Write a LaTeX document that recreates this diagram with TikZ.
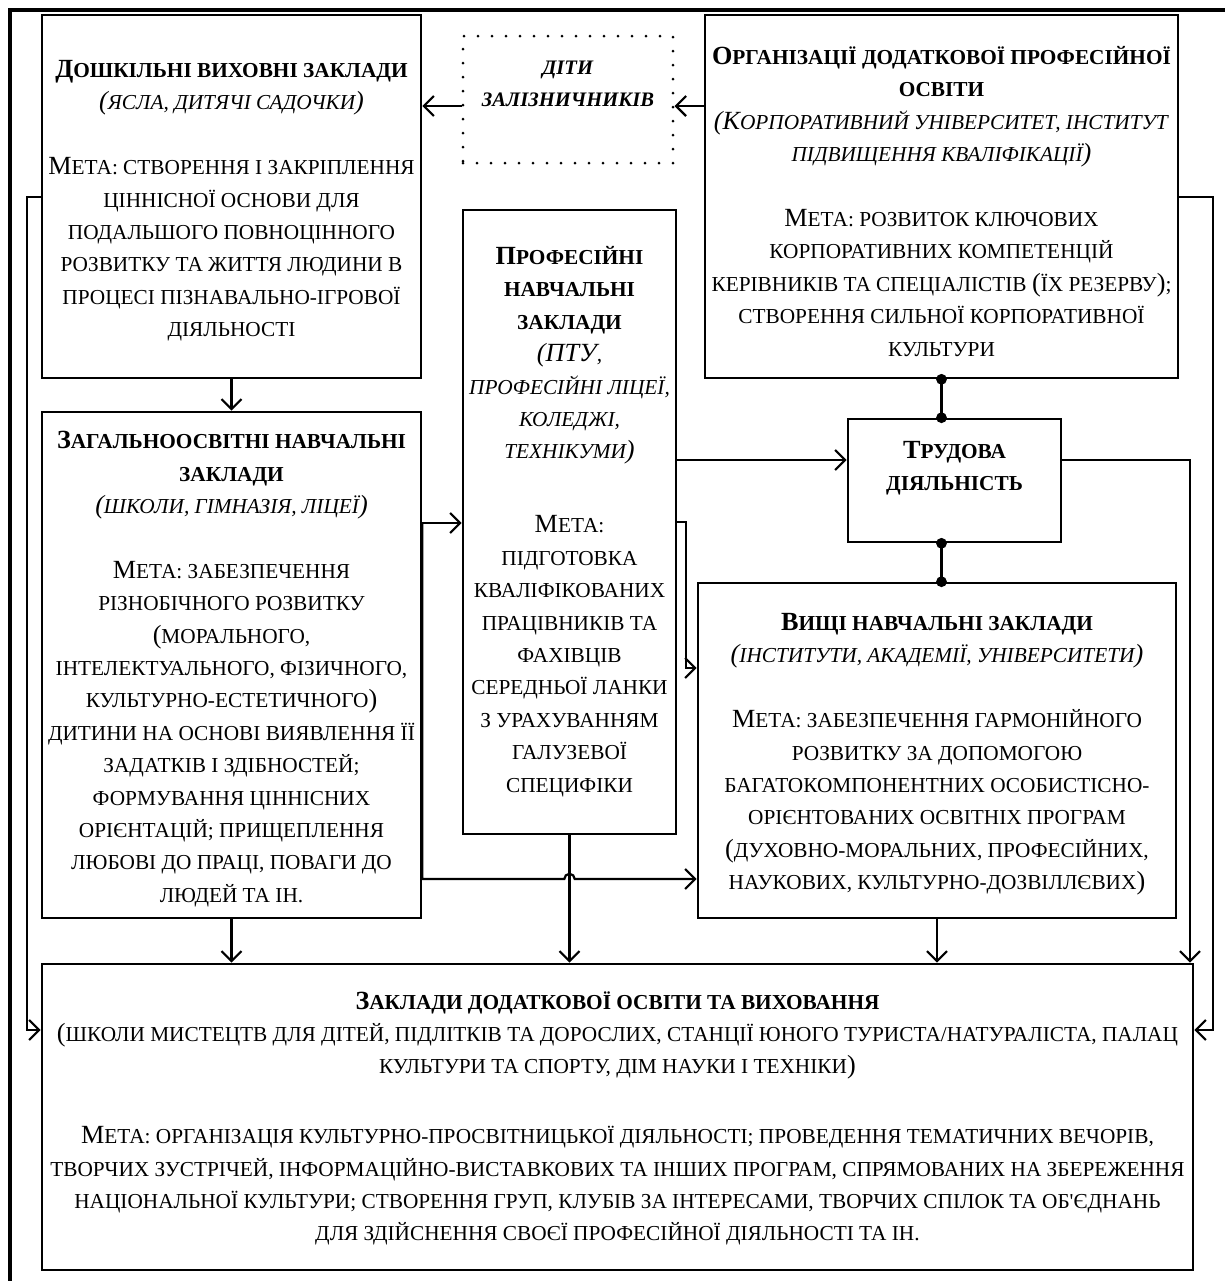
\documentclass[tikz,border=0pt]{standalone}
\usepackage{fontspec}
\setmainfont{Liberation Serif}
\usetikzlibrary{arrows.meta,fit}
% full-size initial capitals inside small-caps text
\newcommand\U[1]{{\fontsize{13.1}{16.2}\selectfont #1}}
\begin{document}
\begin{tikzpicture}[x=0.5pt,y=-0.5pt]
\tikzset{
  box/.style={draw, line width=1.3pt, inner sep=0pt},
  dotbox/.style={draw, line width=1.5pt, inner sep=0pt, dash pattern=on 0pt off 7pt, line cap=round},
  txt/.style={anchor=north, align=center, inner sep=0pt, font=\fontsize{10.65}{16.2}\selectfont},
  conn/.style={line width=1.1pt, -{Straight Barb[length=5pt,width=10pt,line width=1.1pt]}},
  link/.style={line width=1.1pt},
}
\useasboundingbox (0,0) rectangle (1225,1281);

% outer frame
\node[box, line width=1.8pt, fit={(10,10) (1240,1300)}] (frame) {};

% boxes
\node[box, fit={(42,15) (421,378)}] (dosh) {};
\node[dotbox, fit={(463,36) (673,163)}] (dity) {};
\node[box, fit={(705,15) (1178,378)}] (org) {};
\node[box, fit={(42,412) (421,918)}] (zag) {};
\node[box, fit={(463,210) (676,834)}] (prof) {};
\node[box, fit={(848,419) (1061,542)}] (trud) {};
\node[box, fit={(698,583) (1176,918)}] (vysh) {};
\node[box, fit={(42,964) (1193,1270)}] (zakl) {};

% texts
\node[txt] (doshT) at (231.5,60) {%
\textbf{\U{Д}ОШКІЛЬНІ ВИХОВНІ ЗАКЛАДИ}\\
\textit{\U{(}ЯСЛА, ДИТЯЧІ САДОЧКИ\U{)}}\\[16.2pt]
\U{М}ЕТА: СТВОРЕННЯ І ЗАКРІПЛЕННЯ\\
ЦІННІСНОЇ ОСНОВИ ДЛЯ\\
ПОДАЛЬШОГО ПОВНОЦІННОГО\\
РОЗВИТКУ ТА ЖИТТЯ ЛЮДИНИ В\\
ПРОЦЕСІ ПІЗНАВАЛЬНО-ІГРОВОЇ\\
ДІЯЛЬНОСТІ};

\node[txt, font=\fontsize{10.3}{15.6}\selectfont] (dityT) at (568,61) {%
\textbf{\textit{ДІТИ}}\\
\textbf{\textit{ЗАЛІЗНИЧНИКІВ}}};

\node[txt] (orgT) at (941.5,46) {%
\textbf{\U{О}РГАНІЗАЦІЇ ДОДАТКОВОЇ ПРОФЕСІЙНОЇ}\\
\textbf{ОСВІТИ}\\
\textit{\U{(К}ОРПОРАТИВНИЙ УНІВЕРСИТЕТ, ІНСТИТУТ}\\
\textit{ПІДВИЩЕННЯ КВАЛІФІКАЦІЇ\U{)}}\\[16.2pt]
\U{М}ЕТА: РОЗВИТОК КЛЮЧОВИХ\\
КОРПОРАТИВНИХ КОМПЕТЕНЦІЙ\\
КЕРІВНИКІВ ТА СПЕЦІАЛІСТІВ \U{(}ЇХ РЕЗЕРВУ\U{)};\\
СТВОРЕННЯ СИЛЬНОЇ КОРПОРАТИВНОЇ\\
КУЛЬТУРИ};

\node[txt] (zagT) at (231.5,431) {%
\textbf{\U{З}АГАЛЬНООСВІТНІ НАВЧАЛЬНІ}\\
\textbf{ЗАКЛАДИ}\\
\textit{\U{(}ШКОЛИ, ГІМНАЗІЯ, ЛІЦЕЇ\U{)}}\\[16.2pt]
\U{М}ЕТА: ЗАБЕЗПЕЧЕННЯ\\
РІЗНОБІЧНОГО РОЗВИТКУ\\
\U{(}МОРАЛЬНОГО,\\
ІНТЕЛЕКТУАЛЬНОГО, ФІЗИЧНОГО,\\
КУЛЬТУРНО-ЕСТЕТИЧНОГО\U{)}\\
ДИТИНИ НА ОСНОВІ ВИЯВЛЕННЯ ЇЇ\\
ЗАДАТКІВ І ЗДІБНОСТЕЙ;\\
ФОРМУВАННЯ ЦІННІСНИХ\\
ОРІЄНТАЦІЙ; ПРИЩЕПЛЕННЯ\\
ЛЮБОВІ ДО ПРАЦІ, ПОВАГИ ДО\\
ЛЮДЕЙ ТА ІН.};

\node[txt] (profT) at (569.5,246) {%
\textbf{\U{П}РОФЕСІЙНІ}\\
\textbf{НАВЧАЛЬНІ}\\
\textbf{ЗАКЛАДИ}\\
\textit{\U{(ПТУ},}\\
\textit{ПРОФЕСІЙНІ ЛІЦЕЇ,}\\
\textit{КОЛЕДЖІ,}\\
\textit{ТЕХНІКУМИ\U{)}}\\[20.8pt]
\U{М}ЕТА:\\
ПІДГОТОВКА\\
КВАЛІФІКОВАНИХ\\
ПРАЦІВНИКІВ ТА\\
ФАХІВЦІВ\\
СЕРЕДНЬОЇ ЛАНКИ\\
З УРАХУВАННЯМ\\
ГАЛУЗЕВОЇ\\
СПЕЦИФІКИ};

\node[txt] (trudT) at (954.5,441) {%
\textbf{\U{Т}РУДОВА}\\
\textbf{ДІЯЛЬНІСТЬ}};

\node[txt] (vyshT) at (937,613) {%
\textbf{\U{В}ИЩІ НАВЧАЛЬНІ ЗАКЛАДИ}\\
\textit{\U{(}ІНСТИТУТИ, АКАДЕМІЇ, УНІВЕРСИТЕТИ\U{)}}\\[16.2pt]
\U{М}ЕТА: ЗАБЕЗПЕЧЕННЯ ГАРМОНІЙНОГО\\
РОЗВИТКУ ЗА ДОПОМОГОЮ\\
БАГАТОКОМПОНЕНТНИХ ОСОБИСТІСНО-\\
ОРІЄНТОВАНИХ ОСВІТНІХ ПРОГРАМ\\
\U{(}ДУХОВНО-МОРАЛЬНИХ, ПРОФЕСІЙНИХ,\\
НАУКОВИХ, КУЛЬТУРНО-ДОЗВІЛЛЄВИХ\U{)}};

\node[txt] (zaklT) at (617.5,991) {%
\textbf{\U{З}АКЛАДИ ДОДАТКОВОЇ ОСВІТИ ТА ВИХОВАННЯ}\\
\U{(}ШКОЛИ МИСТЕЦТВ ДЛЯ ДІТЕЙ, ПІДЛІТКІВ ТА ДОРОСЛИХ, СТАНЦІЇ ЮНОГО ТУРИСТА/НАТУРАЛІСТА, ПАЛАЦ\\
КУЛЬТУРИ ТА СПОРТУ, ДІМ НАУКИ І ТЕХНІКИ\U{)}\\[18.7pt]
\U{М}ЕТА: ОРГАНІЗАЦІЯ КУЛЬТУРНО-ПРОСВІТНИЦЬКОЇ ДІЯЛЬНОСТІ; ПРОВЕДЕННЯ ТЕМАТИЧНИХ ВЕЧОРІВ,\\
ТВОРЧИХ ЗУСТРІЧЕЙ, ІНФОРМАЦІЙНО-ВИСТАВКОВИХ ТА ІНШИХ ПРОГРАМ, СПРЯМОВАНИХ НА ЗБЕРЕЖЕННЯ\\
НАЦІОНАЛЬНОЇ КУЛЬТУРИ; СТВОРЕННЯ ГРУП, КЛУБІВ ЗА ІНТЕРЕСАМИ, ТВОРЧИХ СПІЛОК ТА ОБ\textquotesingle ЄДНАНЬ\\
ДЛЯ ЗДІЙСНЕННЯ СВОЄЇ ПРОФЕСІЙНОЇ ДІЯЛЬНОСТІ ТА ІН.};

% routing rows and columns
\coordinate (rA) at (0,106);
\coordinate (rB) at (0,523);
\coordinate (rC) at (0,879);
\coordinate (rD) at (0,460);
\coordinate (rE) at (0,522);
\coordinate (rF) at (0,668);
\coordinate (rG) at (0,197);
\coordinate (rH) at (0,1030);
\coordinate (cL) at (27,0);
\coordinate (cP) at (686,0);
\coordinate (cT) at (1190,0);
\coordinate (cO) at (1213,0);

% connectors
\draw[conn] (dity.west |- rA) -- (dosh.east |- rA);
\draw[conn] (org.west |- rA) -- (dity.east |- rA);
\draw[conn] (dosh.south) -- (zag.north);
\draw[conn] (zag.east |- rB) -- (prof.west |- rB);
\draw[conn] (zag.east |- rB) -- (zag.east |- rC)
  -- ([xshift=-2.6pt]prof.south |- rC) arc[start angle=180, end angle=0, radius=2.6pt]
  -- (vysh.west |- rC);
\draw[conn] (prof.east |- rD) -- (trud.west |- rD);
\draw[conn] (prof.east |- rE) -- (cP |- rE) -- (cP |- rF) -- (vysh.west |- rF);
\draw[conn] (trud.east |- rD) -- (cT |- rD) -- (cT |- zakl.north);
\draw[conn] (org.east |- rG) -- (cO |- rG) -- (cO |- rH) -- (zakl.east |- rH);
\draw[conn] (dosh.west |- rG) -- (cL |- rG) -- (cL |- rH) -- (zakl.west |- rH);
\draw[conn] (zag.south) -- (zag.south |- zakl.north);
\draw[conn] (prof.south) -- (prof.south |- zakl.north);
\draw[conn] (vysh.south) -- (vysh.south |- zakl.north);

% links with dot ends around the labour box
\draw[link] (org.south) -- (org.south |- trud.north);
\draw[link] (org.south |- trud.south) -- (org.south |- vysh.north);
\fill (org.south) circle[radius=2.7pt]
      (org.south |- trud.north) circle[radius=2.7pt]
      (org.south |- trud.south) circle[radius=2.7pt]
      (org.south |- vysh.north) circle[radius=2.7pt];
\end{tikzpicture}
\end{document}
